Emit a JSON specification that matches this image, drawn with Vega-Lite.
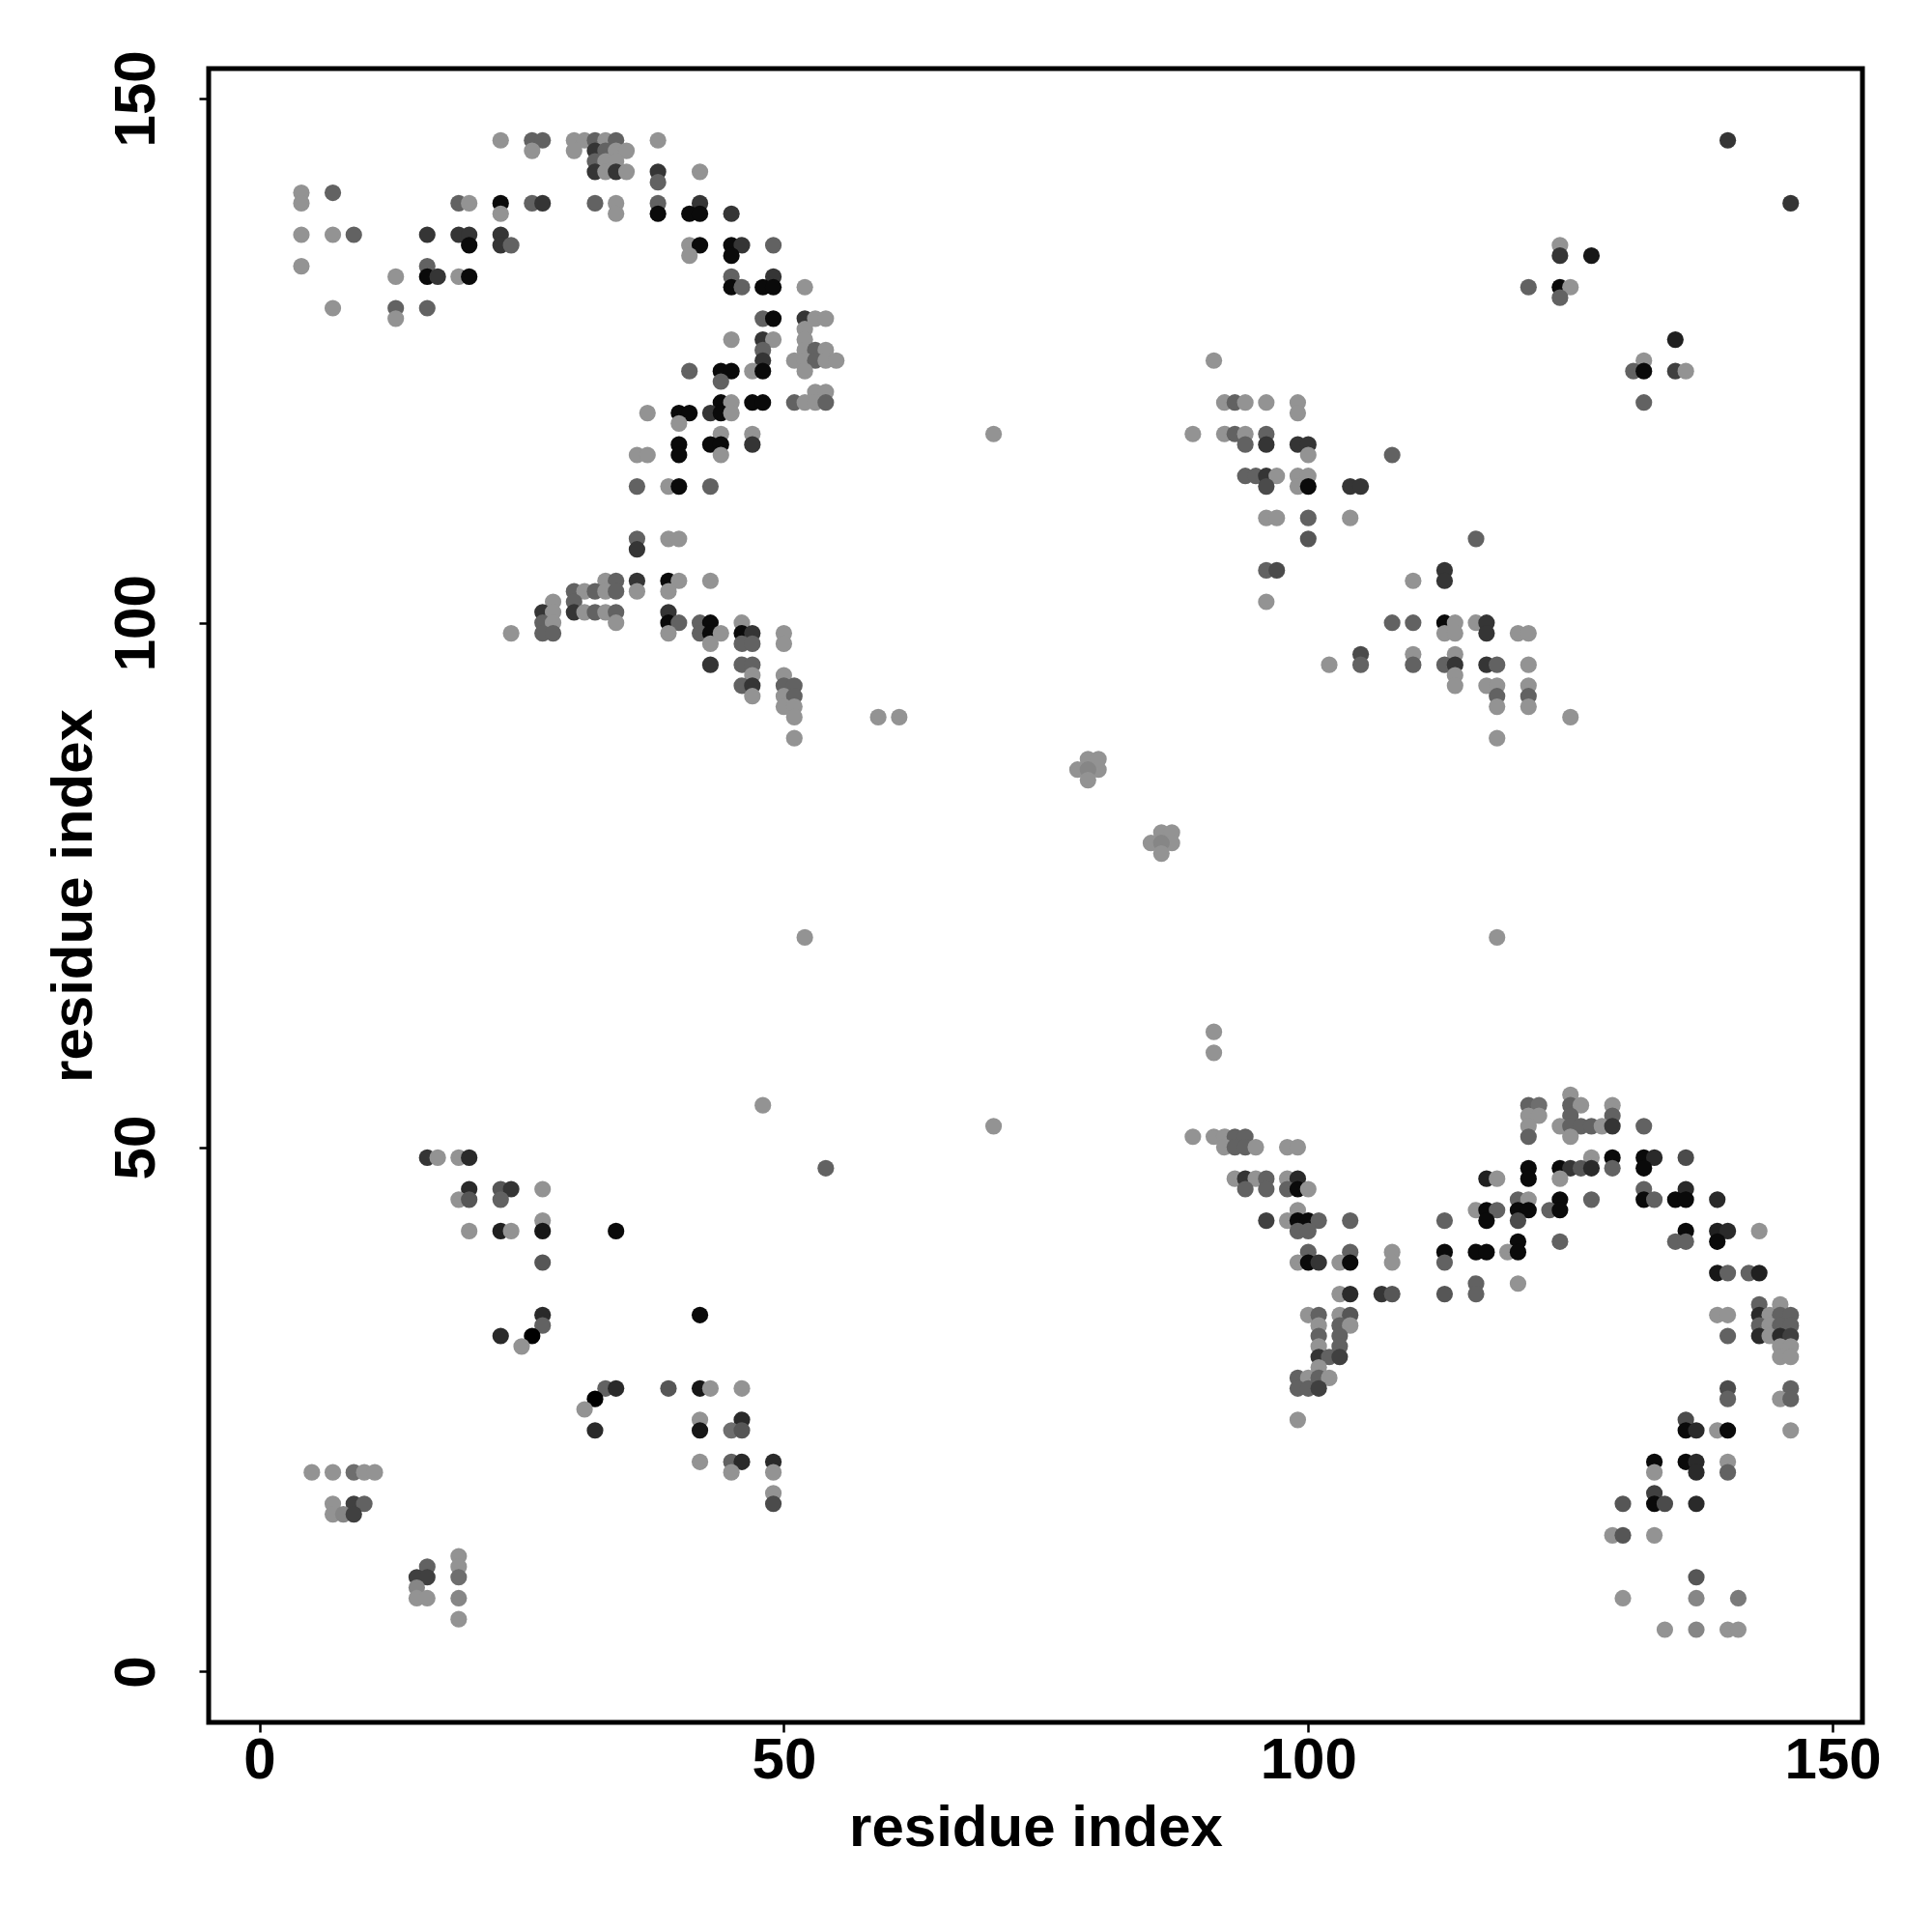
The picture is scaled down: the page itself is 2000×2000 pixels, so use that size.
{
"$schema": "https://vega.github.io/schema/vega-lite/v6.json",
"width": 1712, "height": 1712,
"autosize": {"type": "none"},
"padding": {"left": 216, "top": 71, "right": 72, "bottom": 217},
"background": "white",
"config": {
 "view": {"stroke": "#000000", "strokeWidth": 5},
 "axis": {"grid": false, "domain": false, "ticks": true, "tickColor": "#000000", "tickWidth": 2.5, "tickSize": 10,
  "labelFont": "Liberation Sans", "labelFontWeight": "bold", "labelFontSize": 60, "labelColor": "#000000",
  "titleFont": "Liberation Sans", "titleFontWeight": "bold", "titleFontSize": 60, "titleColor": "#000000"}
},
"data": {"values": [
{"x":23,"y":146,"p":0.3},{"x":26,"y":146,"p":0.5},{"x":27,"y":146,"p":0.5},{"x":26,"y":145,"p":0.3},
{"x":4,"y":141,"p":0.3},{"x":7,"y":141,"p":0.5},
{"x":4,"y":140,"p":0.3},{"x":19,"y":140,"p":0.5},{"x":20,"y":140,"p":0.3},{"x":23,"y":140,"p":0.9},{"x":26,"y":140,"p":0.5},{"x":27,"y":140,"p":0.7},
{"x":23,"y":139,"p":0.3},
{"x":4,"y":137,"p":0.3},{"x":7,"y":137,"p":0.3},{"x":9,"y":137,"p":0.5},{"x":16,"y":137,"p":0.7},{"x":19,"y":137,"p":0.7},{"x":20,"y":137,"p":0.7},{"x":23,"y":137,"p":0.7},
{"x":20,"y":136,"p":0.9},{"x":23,"y":136,"p":0.7},{"x":24,"y":136,"p":0.5},
{"x":4,"y":134,"p":0.3},{"x":16,"y":134,"p":0.5},
{"x":13,"y":133,"p":0.3},{"x":16,"y":133,"p":0.9},{"x":17,"y":133,"p":0.7},{"x":19,"y":133,"p":0.3},{"x":20,"y":133,"p":0.9},
{"x":7,"y":130,"p":0.3},{"x":13,"y":130,"p":0.5},{"x":16,"y":130,"p":0.5},
{"x":13,"y":129,"p":0.3},
{"x":30,"y":146,"p":0.3},{"x":31,"y":146,"p":0.3},{"x":32,"y":146,"p":0.5},{"x":33,"y":146,"p":0.3},{"x":34,"y":146,"p":0.5},{"x":38,"y":146,"p":0.3},
{"x":30,"y":145,"p":0.3},{"x":32,"y":145,"p":0.7},{"x":33,"y":145,"p":0.5},{"x":34,"y":145,"p":0.3},{"x":35,"y":145,"p":0.3},
{"x":32,"y":144,"p":0.5},{"x":33,"y":144,"p":0.3},{"x":34,"y":144,"p":0.3},
{"x":32,"y":143,"p":0.7},{"x":33,"y":143,"p":0.3},{"x":34,"y":143,"p":0.7},{"x":35,"y":143,"p":0.3},{"x":38,"y":143,"p":0.7},{"x":42,"y":143,"p":0.3},
{"x":38,"y":142,"p":0.5},
{"x":32,"y":140,"p":0.5},{"x":34,"y":140,"p":0.3},{"x":38,"y":140,"p":0.5},{"x":42,"y":140,"p":0.7},
{"x":34,"y":139,"p":0.3},{"x":38,"y":139,"p":0.9},{"x":41,"y":139,"p":0.9},{"x":42,"y":139,"p":0.9},{"x":45,"y":139,"p":0.7},
{"x":41,"y":136,"p":0.3},{"x":42,"y":136,"p":0.9},{"x":45,"y":136,"p":0.9},{"x":46,"y":136,"p":0.7},{"x":49,"y":136,"p":0.5},
{"x":41,"y":135,"p":0.3},{"x":45,"y":135,"p":0.9},
{"x":45,"y":133,"p":0.5},{"x":49,"y":133,"p":0.7},
{"x":45,"y":132,"p":0.9},{"x":46,"y":132,"p":0.5},{"x":48,"y":132,"p":0.9},{"x":49,"y":132,"p":0.9},{"x":52,"y":132,"p":0.3},
{"x":48,"y":129,"p":0.5},{"x":49,"y":129,"p":0.9},{"x":52,"y":129,"p":0.7},{"x":53,"y":129,"p":0.3},{"x":54,"y":129,"p":0.3},
{"x":52,"y":128,"p":0.3},
{"x":45,"y":127,"p":0.3},{"x":48,"y":127,"p":0.7},{"x":49,"y":127,"p":0.3},{"x":52,"y":127,"p":0.3},
{"x":48,"y":126,"p":0.5},{"x":52,"y":126,"p":0.3},{"x":53,"y":126,"p":0.5},{"x":54,"y":126,"p":0.3},
{"x":48,"y":125,"p":0.7},{"x":51,"y":125,"p":0.3},{"x":52,"y":125,"p":0.3},{"x":53,"y":125,"p":0.5},{"x":54,"y":125,"p":0.3},{"x":55,"y":125,"p":0.3},
{"x":41,"y":124,"p":0.5},{"x":44,"y":124,"p":0.9},{"x":45,"y":124,"p":0.9},{"x":47,"y":124,"p":0.3},{"x":48,"y":124,"p":0.9},{"x":52,"y":124,"p":0.3},
{"x":44,"y":123,"p":0.5},
{"x":53,"y":122,"p":0.3},{"x":54,"y":122,"p":0.3},
{"x":44,"y":121,"p":0.9},{"x":45,"y":121,"p":0.3},{"x":47,"y":121,"p":0.9},{"x":48,"y":121,"p":0.9},{"x":51,"y":121,"p":0.5},{"x":52,"y":121,"p":0.3},{"x":53,"y":121,"p":0.3},{"x":54,"y":121,"p":0.5},
{"x":37,"y":120,"p":0.3},{"x":40,"y":120,"p":0.9},{"x":41,"y":120,"p":0.9},{"x":43,"y":120,"p":0.7},{"x":44,"y":120,"p":0.9},{"x":45,"y":120,"p":0.3},
{"x":40,"y":119,"p":0.3},
{"x":44,"y":118,"p":0.3},{"x":47,"y":118,"p":0.3},
{"x":40,"y":117,"p":0.9},{"x":43,"y":117,"p":0.9},{"x":44,"y":117,"p":0.9},{"x":47,"y":117,"p":0.7},
{"x":36,"y":116,"p":0.3},{"x":37,"y":116,"p":0.3},{"x":40,"y":116,"p":0.9},{"x":44,"y":116,"p":0.3},
{"x":36,"y":113,"p":0.5},{"x":39,"y":113,"p":0.3},{"x":40,"y":113,"p":0.9},{"x":43,"y":113,"p":0.5},
{"x":36,"y":108,"p":0.5},{"x":39,"y":108,"p":0.3},{"x":40,"y":108,"p":0.3},
{"x":36,"y":107,"p":0.7},
{"x":33,"y":104,"p":0.3},{"x":34,"y":104,"p":0.5},{"x":36,"y":104,"p":0.7},{"x":39,"y":104,"p":0.9},{"x":40,"y":104,"p":0.3},{"x":43,"y":104,"p":0.3},
{"x":30,"y":103,"p":0.5},{"x":31,"y":103,"p":0.3},{"x":32,"y":103,"p":0.5},{"x":33,"y":103,"p":0.3},{"x":34,"y":103,"p":0.5},{"x":36,"y":103,"p":0.3},{"x":39,"y":103,"p":0.3},
{"x":28,"y":102,"p":0.3},{"x":30,"y":102,"p":0.5},
{"x":27,"y":101,"p":0.7},{"x":28,"y":101,"p":0.3},{"x":30,"y":101,"p":0.7},{"x":31,"y":101,"p":0.3},{"x":32,"y":101,"p":0.5},{"x":33,"y":101,"p":0.3},{"x":34,"y":101,"p":0.5},{"x":39,"y":101,"p":0.7},
{"x":27,"y":100,"p":0.5},{"x":28,"y":100,"p":0.3},{"x":34,"y":100,"p":0.3},{"x":39,"y":100,"p":0.9},{"x":40,"y":100,"p":0.5},{"x":42,"y":100,"p":0.5},{"x":43,"y":100,"p":0.9},{"x":46,"y":100,"p":0.3},
{"x":24,"y":99,"p":0.3},{"x":27,"y":99,"p":0.5},{"x":28,"y":99,"p":0.5},{"x":39,"y":99,"p":0.3},{"x":42,"y":99,"p":0.5},{"x":43,"y":99,"p":0.9},{"x":44,"y":99,"p":0.3},{"x":46,"y":99,"p":0.9},{"x":47,"y":99,"p":0.7},{"x":50,"y":99,"p":0.3},
{"x":43,"y":98,"p":0.3},{"x":46,"y":98,"p":0.5},{"x":47,"y":98,"p":0.5},{"x":50,"y":98,"p":0.3},
{"x":43,"y":96,"p":0.7},{"x":46,"y":96,"p":0.5},{"x":47,"y":96,"p":0.5},
{"x":47,"y":95,"p":0.3},{"x":50,"y":95,"p":0.3},
{"x":46,"y":94,"p":0.5},{"x":47,"y":94,"p":0.7},{"x":50,"y":94,"p":0.5},{"x":51,"y":94,"p":0.5},
{"x":47,"y":93,"p":0.3},{"x":50,"y":93,"p":0.3},{"x":51,"y":93,"p":0.5},
{"x":50,"y":92,"p":0.3},{"x":51,"y":92,"p":0.3},
{"x":51,"y":91,"p":0.3},{"x":59,"y":91,"p":0.3},{"x":61,"y":91,"p":0.3},
{"x":51,"y":89,"p":0.3},
{"x":70,"y":118,"p":0.3},{"x":118,"y":70,"p":0.3},{"x":52,"y":70,"p":0.3},{"x":70,"y":52,"p":0.3},
{"x":54,"y":48,"p":0.5},{"x":48,"y":54,"p":0.3},
{"x":79,"y":87,"p":0.3},{"x":80,"y":87,"p":0.3},{"x":78,"y":86,"p":0.3},{"x":80,"y":86,"p":0.3},{"x":79,"y":86,"p":0.35},{"x":79,"y":85,"p":0.3},
{"x":86,"y":80,"p":0.3},{"x":87,"y":80,"p":0.3},{"x":85,"y":79,"p":0.3},{"x":87,"y":79,"p":0.3},{"x":86,"y":79,"p":0.35},{"x":86,"y":78,"p":0.3},
{"x":91,"y":61,"p":0.3},{"x":91,"y":59,"p":0.3},
{"x":91,"y":125,"p":0.3},
{"x":92,"y":121,"p":0.3},{"x":93,"y":121,"p":0.5},{"x":94,"y":121,"p":0.3},{"x":96,"y":121,"p":0.3},{"x":99,"y":121,"p":0.3},
{"x":99,"y":120,"p":0.3},
{"x":89,"y":118,"p":0.3},{"x":92,"y":118,"p":0.3},{"x":93,"y":118,"p":0.5},{"x":94,"y":118,"p":0.3},{"x":96,"y":118,"p":0.5},
{"x":94,"y":117,"p":0.5},{"x":96,"y":117,"p":0.7},{"x":99,"y":117,"p":0.7},{"x":100,"y":117,"p":0.7},
{"x":100,"y":116,"p":0.3},{"x":108,"y":116,"p":0.5},
{"x":94,"y":114,"p":0.5},{"x":95,"y":114,"p":0.5},{"x":96,"y":114,"p":0.7},{"x":97,"y":114,"p":0.3},{"x":99,"y":114,"p":0.3},{"x":100,"y":114,"p":0.3},
{"x":96,"y":113,"p":0.6},{"x":99,"y":113,"p":0.3},{"x":100,"y":113,"p":0.9},{"x":104,"y":113,"p":0.7},{"x":105,"y":113,"p":0.7},
{"x":96,"y":110,"p":0.3},{"x":97,"y":110,"p":0.3},{"x":100,"y":110,"p":0.5},{"x":104,"y":110,"p":0.3},
{"x":100,"y":108,"p":0.55},{"x":116,"y":108,"p":0.5},
{"x":96,"y":105,"p":0.5},{"x":97,"y":105,"p":0.6},{"x":113,"y":105,"p":0.7},
{"x":110,"y":104,"p":0.3},{"x":113,"y":104,"p":0.7},
{"x":96,"y":102,"p":0.3},
{"x":108,"y":100,"p":0.5},{"x":110,"y":100,"p":0.5},{"x":113,"y":100,"p":0.9},{"x":114,"y":100,"p":0.3},{"x":116,"y":100,"p":0.3},{"x":117,"y":100,"p":0.7},
{"x":113,"y":99,"p":0.3},{"x":114,"y":99,"p":0.3},{"x":117,"y":99,"p":0.7},{"x":120,"y":99,"p":0.3},{"x":121,"y":99,"p":0.3},
{"x":105,"y":97,"p":0.6},{"x":110,"y":97,"p":0.3},{"x":114,"y":97,"p":0.3},
{"x":102,"y":96,"p":0.3},{"x":105,"y":96,"p":0.5},{"x":110,"y":96,"p":0.5},{"x":113,"y":96,"p":0.5},{"x":114,"y":96,"p":0.7},{"x":117,"y":96,"p":0.7},{"x":118,"y":96,"p":0.5},{"x":121,"y":96,"p":0.3},
{"x":114,"y":95,"p":0.3},
{"x":114,"y":94,"p":0.3},{"x":117,"y":94,"p":0.3},{"x":118,"y":94,"p":0.3},{"x":121,"y":94,"p":0.3},
{"x":118,"y":93,"p":0.5},{"x":121,"y":93,"p":0.5},
{"x":118,"y":92,"p":0.3},{"x":121,"y":92,"p":0.3},
{"x":125,"y":91,"p":0.3},{"x":118,"y":89,"p":0.3},
{"x":140,"y":146,"p":0.7},{"x":146,"y":140,"p":0.7},
{"x":124,"y":136,"p":0.3},{"x":124,"y":135,"p":0.7},{"x":127,"y":135,"p":0.85},
{"x":121,"y":132,"p":0.5},{"x":124,"y":132,"p":0.9},{"x":125,"y":132,"p":0.3},{"x":124,"y":131,"p":0.5},
{"x":135,"y":127,"p":0.8},
{"x":132,"y":125,"p":0.3},{"x":131,"y":124,"p":0.5},{"x":132,"y":124,"p":0.9},{"x":135,"y":124,"p":0.65},{"x":136,"y":124,"p":0.3},
{"x":132,"y":121,"p":0.5},
{"x":89,"y":51,"p":0.3},{"x":91,"y":51,"p":0.3},{"x":92,"y":51,"p":0.3},{"x":93,"y":51,"p":0.5},{"x":94,"y":51,"p":0.5},
{"x":92,"y":50,"p":0.3},{"x":93,"y":50,"p":0.5},{"x":94,"y":50,"p":0.5},{"x":95,"y":50,"p":0.3},{"x":98,"y":50,"p":0.3},{"x":99,"y":50,"p":0.3},
{"x":93,"y":47,"p":0.3},{"x":94,"y":47,"p":0.7},{"x":95,"y":47,"p":0.3},{"x":96,"y":47,"p":0.5},{"x":98,"y":47,"p":0.3},{"x":99,"y":47,"p":0.75},
{"x":94,"y":46,"p":0.5},{"x":96,"y":46,"p":0.5},{"x":98,"y":46,"p":0.5},{"x":99,"y":46,"p":0.9},{"x":100,"y":46,"p":0.3},
{"x":99,"y":44,"p":0.3},
{"x":96,"y":43,"p":0.65},{"x":98,"y":43,"p":0.3},{"x":99,"y":43,"p":0.9},{"x":100,"y":43,"p":0.9},{"x":101,"y":43,"p":0.5},{"x":104,"y":43,"p":0.5},{"x":113,"y":43,"p":0.5},
{"x":99,"y":42,"p":0.5},{"x":100,"y":42,"p":0.5},
{"x":100,"y":40,"p":0.5},{"x":104,"y":40,"p":0.5},{"x":108,"y":40,"p":0.3},{"x":113,"y":40,"p":0.9},
{"x":99,"y":39,"p":0.3},{"x":100,"y":39,"p":0.9},{"x":101,"y":39,"p":0.7},{"x":103,"y":39,"p":0.3},{"x":104,"y":39,"p":0.9},{"x":108,"y":39,"p":0.3},{"x":113,"y":39,"p":0.5},
{"x":103,"y":36,"p":0.3},{"x":104,"y":36,"p":0.75},{"x":107,"y":36,"p":0.7},{"x":108,"y":36,"p":0.55},{"x":113,"y":36,"p":0.55},
{"x":100,"y":34,"p":0.3},{"x":101,"y":34,"p":0.5},{"x":103,"y":34,"p":0.3},{"x":104,"y":34,"p":0.55},
{"x":101,"y":33,"p":0.3},{"x":103,"y":33,"p":0.5},{"x":104,"y":33,"p":0.3},
{"x":101,"y":32,"p":0.5},{"x":103,"y":32,"p":0.5},
{"x":101,"y":31,"p":0.3},{"x":103,"y":31,"p":0.5},
{"x":101,"y":30,"p":0.7},{"x":102,"y":30,"p":0.5},{"x":103,"y":30,"p":0.65},
{"x":101,"y":29,"p":0.3},
{"x":99,"y":28,"p":0.5},{"x":100,"y":28,"p":0.3},{"x":101,"y":28,"p":0.5},{"x":102,"y":28,"p":0.3},
{"x":99,"y":27,"p":0.5},{"x":100,"y":27,"p":0.5},{"x":101,"y":27,"p":0.65},
{"x":99,"y":24,"p":0.3},
{"x":125,"y":55,"p":0.3},
{"x":121,"y":54,"p":0.5},{"x":122,"y":54,"p":0.45},{"x":125,"y":54,"p":0.5},{"x":126,"y":54,"p":0.3},{"x":129,"y":54,"p":0.3},
{"x":121,"y":53,"p":0.3},{"x":122,"y":53,"p":0.3},{"x":125,"y":53,"p":0.5},{"x":129,"y":53,"p":0.5},
{"x":121,"y":52,"p":0.3},{"x":124,"y":52,"p":0.3},{"x":125,"y":52,"p":0.5},{"x":126,"y":52,"p":0.5},{"x":127,"y":52,"p":0.5},{"x":128,"y":52,"p":0.3},{"x":129,"y":52,"p":0.7},{"x":132,"y":52,"p":0.5},
{"x":121,"y":51,"p":0.5},{"x":125,"y":51,"p":0.3},
{"x":127,"y":49,"p":0.3},{"x":129,"y":49,"p":0.9},{"x":132,"y":49,"p":0.9},{"x":133,"y":49,"p":0.75},{"x":136,"y":49,"p":0.6},
{"x":121,"y":48,"p":0.9},{"x":124,"y":48,"p":0.9},{"x":125,"y":48,"p":0.7},{"x":126,"y":48,"p":0.55},{"x":127,"y":48,"p":0.75},{"x":129,"y":48,"p":0.5},{"x":132,"y":48,"p":0.9},
{"x":117,"y":47,"p":0.8},{"x":118,"y":47,"p":0.3},{"x":121,"y":47,"p":0.9},{"x":124,"y":47,"p":0.3},
{"x":132,"y":46,"p":0.5},{"x":136,"y":46,"p":0.75},
{"x":120,"y":45,"p":0.5},{"x":121,"y":45,"p":0.3},{"x":124,"y":45,"p":0.9},{"x":127,"y":45,"p":0.5},{"x":132,"y":45,"p":0.9},{"x":133,"y":45,"p":0.5},{"x":135,"y":45,"p":0.9},{"x":136,"y":45,"p":0.9},{"x":139,"y":45,"p":0.75},
{"x":116,"y":44,"p":0.3},{"x":117,"y":44,"p":0.9},{"x":118,"y":44,"p":0.5},{"x":120,"y":44,"p":0.9},{"x":121,"y":44,"p":0.9},{"x":123,"y":44,"p":0.5},{"x":124,"y":44,"p":0.9},
{"x":117,"y":43,"p":0.9},{"x":120,"y":43,"p":0.6},
{"x":136,"y":42,"p":0.9},{"x":139,"y":42,"p":0.8},{"x":140,"y":42,"p":0.75},{"x":143,"y":42,"p":0.3},
{"x":120,"y":41,"p":0.9},{"x":124,"y":41,"p":0.5},{"x":135,"y":41,"p":0.5},{"x":136,"y":41,"p":0.5},{"x":139,"y":41,"p":0.9},
{"x":116,"y":40,"p":0.9},{"x":117,"y":40,"p":0.9},{"x":119,"y":40,"p":0.3},{"x":120,"y":40,"p":0.9},
{"x":139,"y":38,"p":0.85},{"x":140,"y":38,"p":0.5},{"x":142,"y":38,"p":0.5},{"x":143,"y":38,"p":0.8},
{"x":116,"y":37,"p":0.5},{"x":120,"y":37,"p":0.3},
{"x":116,"y":36,"p":0.5},
{"x":143,"y":35,"p":0.5},{"x":145,"y":35,"p":0.3},
{"x":139,"y":34,"p":0.3},{"x":140,"y":34,"p":0.3},{"x":143,"y":34,"p":0.75},{"x":144,"y":34,"p":0.3},{"x":145,"y":34,"p":0.5},{"x":146,"y":34,"p":0.5},
{"x":143,"y":33,"p":0.5},{"x":144,"y":33,"p":0.3},{"x":145,"y":33,"p":0.5},{"x":146,"y":33,"p":0.5},
{"x":140,"y":32,"p":0.5},{"x":143,"y":32,"p":0.75},{"x":144,"y":32,"p":0.3},{"x":145,"y":32,"p":0.75},{"x":146,"y":32,"p":0.65},
{"x":145,"y":31,"p":0.3},{"x":146,"y":31,"p":0.3},
{"x":145,"y":30,"p":0.3},{"x":146,"y":30,"p":0.3},
{"x":140,"y":27,"p":0.6},{"x":146,"y":27,"p":0.5},
{"x":140,"y":26,"p":0.5},{"x":145,"y":26,"p":0.3},{"x":146,"y":26,"p":0.5},
{"x":136,"y":24,"p":0.6},
{"x":136,"y":23,"p":0.9},{"x":137,"y":23,"p":0.75},{"x":139,"y":23,"p":0.3},{"x":140,"y":23,"p":0.9},{"x":146,"y":23,"p":0.3},
{"x":133,"y":20,"p":0.9},{"x":136,"y":20,"p":0.9},{"x":137,"y":20,"p":0.75},{"x":140,"y":20,"p":0.3},
{"x":133,"y":19,"p":0.3},{"x":137,"y":19,"p":0.75},{"x":140,"y":19,"p":0.5},
{"x":133,"y":17,"p":0.65},
{"x":130,"y":16,"p":0.55},{"x":133,"y":16,"p":0.9},{"x":134,"y":16,"p":0.6},{"x":137,"y":16,"p":0.75},
{"x":129,"y":13,"p":0.3},{"x":130,"y":13,"p":0.55},{"x":133,"y":13,"p":0.3},
{"x":137,"y":9,"p":0.55},
{"x":130,"y":7,"p":0.3},{"x":137,"y":7,"p":0.35},{"x":141,"y":7,"p":0.4},
{"x":134,"y":4,"p":0.3},{"x":137,"y":4,"p":0.35},{"x":140,"y":4,"p":0.3},{"x":141,"y":4,"p":0.3},
{"x":16,"y":49,"p":0.7},{"x":17,"y":49,"p":0.3},{"x":19,"y":49,"p":0.3},{"x":20,"y":49,"p":0.75},
{"x":20,"y":46,"p":0.75},{"x":23,"y":46,"p":0.55},{"x":24,"y":46,"p":0.7},{"x":27,"y":46,"p":0.3},
{"x":19,"y":45,"p":0.3},{"x":20,"y":45,"p":0.55},{"x":23,"y":45,"p":0.5},
{"x":27,"y":43,"p":0.3},
{"x":20,"y":42,"p":0.3},{"x":23,"y":42,"p":0.8},{"x":24,"y":42,"p":0.3},{"x":27,"y":42,"p":0.85},
{"x":27,"y":39,"p":0.55},
{"x":27,"y":34,"p":0.75},{"x":27,"y":33,"p":0.5},
{"x":23,"y":32,"p":0.75},{"x":26,"y":32,"p":0.95},
{"x":25,"y":31,"p":0.3},
{"x":34,"y":42,"p":0.9},{"x":42,"y":34,"p":0.9},
{"x":33,"y":27,"p":0.5},{"x":34,"y":27,"p":0.75},{"x":39,"y":27,"p":0.55},{"x":42,"y":27,"p":0.85},{"x":43,"y":27,"p":0.3},{"x":46,"y":27,"p":0.3},
{"x":32,"y":26,"p":0.95},
{"x":31,"y":25,"p":0.3},
{"x":42,"y":24,"p":0.3},{"x":46,"y":24,"p":0.75},
{"x":32,"y":23,"p":0.75},{"x":42,"y":23,"p":0.85},{"x":45,"y":23,"p":0.45},{"x":46,"y":23,"p":0.55},
{"x":42,"y":20,"p":0.3},{"x":45,"y":20,"p":0.5},{"x":46,"y":20,"p":0.75},{"x":49,"y":20,"p":0.75},
{"x":45,"y":19,"p":0.3},{"x":49,"y":19,"p":0.3},
{"x":49,"y":17,"p":0.3},{"x":49,"y":16,"p":0.6},
{"x":5,"y":19,"p":0.3},{"x":7,"y":19,"p":0.3},{"x":9,"y":19,"p":0.45},{"x":10,"y":19,"p":0.3},{"x":11,"y":19,"p":0.3},
{"x":7,"y":16,"p":0.3},{"x":9,"y":16,"p":0.65},{"x":10,"y":16,"p":0.5},
{"x":7,"y":15,"p":0.3},{"x":8,"y":15,"p":0.35},{"x":9,"y":15,"p":0.65},
{"x":19,"y":11,"p":0.3},
{"x":16,"y":10,"p":0.5},{"x":19,"y":10,"p":0.3},
{"x":15,"y":9,"p":0.65},{"x":16,"y":9,"p":0.65},{"x":19,"y":9,"p":0.45},
{"x":15,"y":8,"p":0.35},
{"x":15,"y":7,"p":0.3},{"x":16,"y":7,"p":0.3},{"x":19,"y":7,"p":0.35},
{"x":19,"y":5,"p":0.3}
]},
"mark": {"type": "circle", "size": 295, "opacity": 1},
"encoding": {
 "x": {"field": "x", "type": "quantitative",
  "scale": {"domain": [-4.84, 152.84], "nice": false, "zero": false},
  "axis": {"values": [0, 50, 100, 150], "title": "residue index", "labelPadding": 47, "labelBaseline": "alphabetic", "labelAlign": "center", "labelFlush": false, "labelOverlap": false,
   "titleX": 856, "titleY": 127, "titleAlign": "center", "titleBaseline": "alphabetic", "titleAnchor": null}},
 "y": {"field": "y", "type": "quantitative",
  "scale": {"domain": [-4.84, 152.84], "nice": false, "zero": false},
  "axis": {"values": [0, 50, 100, 150], "title": "residue index", "labelAngle": 270, "labelPadding": 47, "labelBaseline": "alphabetic", "labelAlign": "center", "labelFlush": false, "labelOverlap": false,
   "titleAngle": 270, "titleX": -122, "titleY": 856, "titleAlign": "center", "titleBaseline": "alphabetic"}},
 "color": {"field": "p", "type": "quantitative", "scale": {"domain": [0.3, 0.9], "range": ["#939393", "#0a0a0a"]}, "legend": null}
}
}
